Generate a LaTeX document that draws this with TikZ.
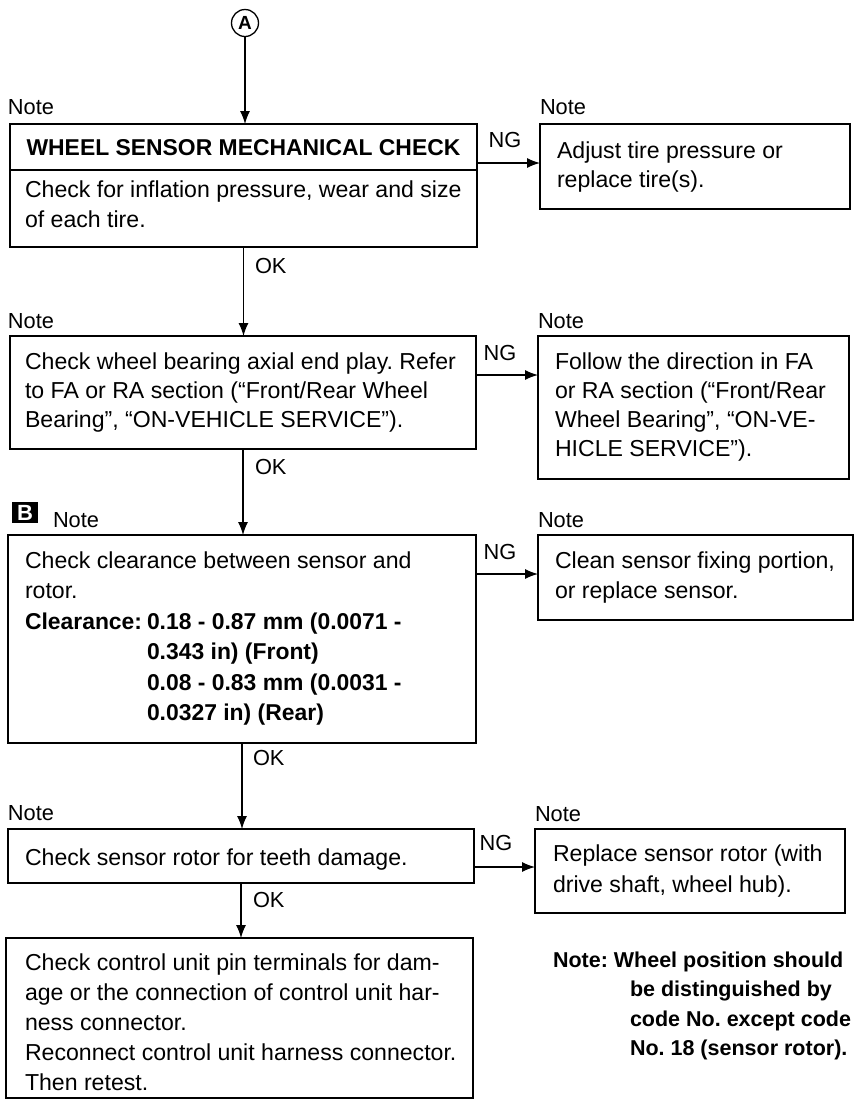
\documentclass[tikz,border=0pt]{standalone}
\usepackage{fontspec}
\setmainfont{Liberation Sans}
\usetikzlibrary{arrows.meta}
\frenchspacing
\begin{document}
\begin{tikzpicture}[x=1pt,y=-1pt,
  box/.style={draw, line width=1.5pt, inner sep=0pt, outer sep=0pt, anchor=north west},
  txt/.style={inner sep=0pt, outer sep=0pt, anchor=north west, align=left},
  lbl/.style={inner sep=0pt, outer sep=0pt, font=\fontsize{21.8}{25}\selectfont},
  arr/.style={line width=1.2pt, -{Latex[length=13pt,width=10pt]}},
  fs/.style={font=\fontsize{23.1}{#1}\selectfont},
  fsb/.style={font=\fontsize{22.9}{#1}\selectfont\bfseries},
  fnb/.style={font=\fontsize{21.5}{#1}\selectfont\bfseries}
]
\useasboundingbox[fill=white] (0,0) rectangle (855,1112);

% start marker
\node[circle, draw, line width=1.3pt, minimum size=27pt, inner sep=0pt,
      font=\fontsize{19}{22}\selectfont\bfseries] (A) at (245,23) {A};

% ---------- row 1
\node[lbl, anchor=west] (n1) at (8,107) {Note};
\node[box, minimum width=467pt, minimum height=123pt] (b1) at (10,124) {};
\draw[line width=2.8pt] ([yshift=-46pt]b1.north west) -- ([yshift=-46pt]b1.north east);
\node[inner sep=0pt, fsb=25] (b1h) at (243.5,148) {WHEEL SENSOR MECHANICAL CHECK};
\node[txt, fs=30] (b1t) at (25,176) {\strut Check for inflation pressure, wear and size\\of each tire.};

\node[lbl, anchor=west] (rn1) at (540,107) {Note};
\node[box, minimum width=310pt, minimum height=85pt] (r1) at (540,124) {};
\node[txt, fs=29] (r1t) at (557,137.7) {\strut Adjust tire pressure or\\replace tire(s).};

\draw[arr] ([yshift=-39pt]b1.north east) -- ([yshift=-39pt]r1.north west);
\node[lbl] (ng1) at (505,140) {NG};
\draw[arr] (A.south) -- (A.south |- b1.north);

% ---------- row 2
\node[lbl, anchor=west] (ok1) at (255,266) {OK};
\node[lbl, anchor=west] (n2) at (8,321) {Note};
\node[box, minimum width=466pt, minimum height=113pt] (b2) at (10,336) {};
\node[txt, fs=29] (b2t) at (25,348.7) {\strut Check wheel bearing axial end play. Refer\\to FA or RA section (“Front/Rear Wheel\\Bearing”, “ON-VEHICLE SERVICE”).};
\draw[arr] (b1.south) -- (b1.south |- b2.north);

\node[lbl, anchor=west] (rn2) at (538,321) {Note};
\node[box, minimum width=311pt, minimum height=143pt] (r2) at (538,336) {};
\node[txt, fs=29] (r2t) at (555,348.7) {\strut Follow the direction in FA\\or RA section (“Front/Rear\\Wheel Bearing”, “ON-VE-\\HICLE SERVICE”).};

\draw[arr] ([yshift=-39pt]b2.north east) -- ([yshift=-39pt]r2.north west);
\node[lbl] (ng2) at (500,353) {NG};

% ---------- row 3
\node[lbl, anchor=west] (ok2) at (255,467) {OK};
\node[fill=black, text=white, minimum width=26pt, minimum height=21pt, inner sep=0pt,
      font=\fontsize{22}{24}\selectfont\bfseries] (Bic) at (25,512.5) {B};
\node[lbl, anchor=west] (n3) at (53,520) {Note};
\node[box, minimum width=468pt, minimum height=208pt] (b3) at (8,535) {};
\node[txt, fs=30.5] (b3t) at (25,546.65) {\strut Check clearance between sensor and\\rotor.};
\node[txt, fsb=30.5] (b3c) at (25,607.65) {\strut Clearance:};
\node[txt, fsb=30.5] (b3v) at (147,607.65) {\strut 0.18 - 0.87 mm (0.0071 -\\0.343 in) (Front)\\0.08 - 0.83 mm (0.0031 -\\0.0327 in) (Rear)};
\draw[arr] (b2.south) -- (b2.south |- b3.north);

\node[lbl, anchor=west] (rn3) at (538,520) {Note};
\node[box, minimum width=315pt, minimum height=85pt] (r3) at (538,535) {};
\node[txt, fs=30] (r3t) at (555,547) {\strut Clean sensor fixing portion,\\or replace sensor.};

\draw[arr] ([yshift=-39pt]b3.north east) -- ([yshift=-39pt]r3.north west);
\node[lbl] (ng3) at (500,552) {NG};

% ---------- row 4
\node[lbl, anchor=west] (ok3) at (253,758) {OK};
\node[lbl, anchor=west] (n4) at (8,813) {Note};
\node[box, minimum width=466pt, minimum height=54pt] (b4) at (8,829) {};
\node[txt, fs=29.5] (b4t) at (25,844.35) {\strut Check sensor rotor for teeth damage.};
\draw[arr] (b3.south) -- (b3.south |- b4.north);

\node[lbl, anchor=west] (rn4) at (535,814) {Note};
\node[box, minimum width=310pt, minimum height=84pt] (r4) at (535,829) {};
\node[txt, fs=31] (r4t) at (553,839.3) {\strut Replace sensor rotor (with\\drive shaft, wheel hub).};

\draw[arr] ([yshift=-38pt]b4.north east) -- ([yshift=-38pt]r4.north west);
\node[lbl] (ng4) at (496,843) {NG};

% ---------- row 5
\node[lbl, anchor=west] (ok4) at (253,900) {OK};
\node[box, minimum width=467pt, minimum height=160pt] (b5) at (6,938) {};
\node[txt, fs=30] (b5t) at (25,949) {\strut Check control unit pin terminals for dam-\\age or the connection of control unit har-\\ness connector.\\Reconnect control unit harness connector.\\Then retest.};
\draw[arr] (b4.south) -- (b4.south |- b5.north);

% footnote
\node[txt, fnb=29.5] (fn1) at (553,946.85) {\strut Note: Wheel position should};
\node[txt, fnb=29.5] (fn2) at (630,975.85) {\strut be distinguished by\\code No. except code\\No. 18 (sensor rotor).};
\end{tikzpicture}
\end{document}
